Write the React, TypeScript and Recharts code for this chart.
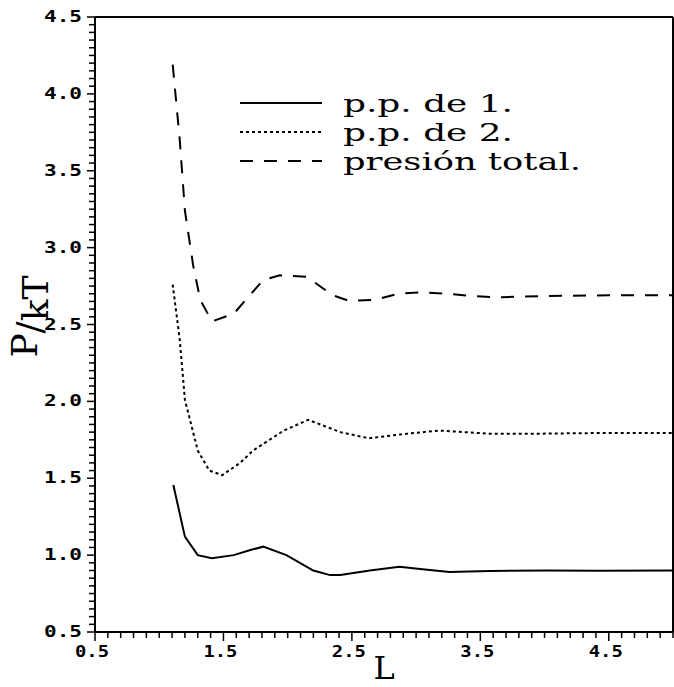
import React from 'react';
import { LineChart, Line, XAxis, YAxis, ReferenceLine, Legend } from 'recharts';

// p.p. de 1.
const L1 = [1.11, 1.2, 1.3, 1.41, 1.58, 1.71, 1.81, 1.99, 2.2, 2.33, 2.41, 2.64, 2.87, 3.05, 3.26, 3.57, 4.01, 4.43, 5.0];
const P1 = [1.456, 1.12, 1.0, 0.98, 1.0, 1.033, 1.055, 1.0, 0.9, 0.87, 0.87, 0.9, 0.925, 0.908, 0.89, 0.897, 0.9, 0.899, 0.9];

// p.p. de 2.
const L2 = [1.105, 1.16, 1.2, 1.3, 1.39, 1.49, 1.63, 1.73, 1.97, 2.16, 2.41, 2.63, 2.93, 3.18, 3.57, 3.96, 4.5, 5.0];
const P2 = [2.76, 2.4, 2.01, 1.68, 1.55, 1.52, 1.6, 1.68, 1.81, 1.88, 1.8, 1.76, 1.79, 1.81, 1.79, 1.79, 1.795, 1.795];

// presión total.
const L3 = [1.105, 1.16, 1.2, 1.265, 1.32, 1.41, 1.58, 1.81, 1.94, 2.15, 2.35, 2.48, 2.68, 2.86, 3.05, 3.24, 3.44, 3.64, 4.0, 4.5, 5.0];
const P3 = [4.19, 3.7, 3.24, 2.88, 2.66, 2.52, 2.57, 2.79, 2.82, 2.81, 2.69, 2.653, 2.66, 2.7, 2.71, 2.7, 2.685, 2.677, 2.685, 2.69, 2.69];

const X_LABELS = [0.5, 1.5, 2.5, 3.5, 4.5];
const Y_LABELS = [0.5, 1.0, 1.5, 2.0, 2.5, 3.0, 3.5, 4.0, 4.5];

const SERIES = [
  { name: 'p.p. de 1.', L: L1, P: P1, dash: undefined },
  { name: 'p.p. de 2.', L: L2, P: P2, dash: '3 3' },
  { name: 'presión total.', L: L3, P: P3, dash: '13 11' },
];

const toRows = (xs: number[], ys: number[]) => xs.map((L, i) => ({ L, P: ys[i] }));

// minor ticks: 0.1 on L, 0.05 on P
const xTicks: number[] = [];
for (let i = 5; i <= 50; i++) xTicks.push(i / 10);
const yTicks: number[] = [];
for (let i = 10; i <= 90; i++) yTicks.push(i / 20);

const isLabel = (v: number, labels: number[]) => labels.some((l) => Math.abs(l - v) < 1e-6);

const MONO = '"DejaVu Sans Mono", monospace';
const SERIF = '"DejaVu Serif", serif';

function XTick(props: any) {
  const { x, y, payload } = props;
  const major = isLabel(payload.value, X_LABELS);
  return (
    <g>
      <line x1={x} y1={y} x2={x} y2={y + (major ? 9 : 6)} stroke="#000" strokeWidth={1.5} />
      {major && (
        <text x={x - 3} y={y + 25} textAnchor="middle" fontFamily={MONO} fontSize={15} fontWeight="bold"
          textLength={34} lengthAdjust="spacingAndGlyphs" fill="#000">
          {payload.value.toFixed(1)}
        </text>
      )}
    </g>
  );
}

function YTick(props: any) {
  const { x, y, payload } = props;
  const major = isLabel(payload.value, Y_LABELS);
  return (
    <g>
      <line x1={x - (major ? 8 : 6)} y1={y} x2={x} y2={y} stroke="#000" strokeWidth={1.5} />
      {major && (
        <text x={x - 13} y={y + 5} textAnchor="end" fontFamily={MONO} fontSize={15} fontWeight="bold"
          textLength={38} lengthAdjust="spacingAndGlyphs" fill="#000">
          {payload.value.toFixed(1)}
        </text>
      )}
    </g>
  );
}

function LegendBox() {
  return (
    <svg width={360} height={100}>
      {SERIES.map((s, i) => (
        <g key={s.name}>
          <line x1={10} y1={18 + i * 29} x2={92} y2={18 + i * 29} stroke="#000" strokeWidth={2}
            strokeDasharray={s.dash} />
          <text x={113} y={27 + i * 29} fontFamily={SERIF} fontSize={25} fill="#000"
            textLength={s.name.length * 17} lengthAdjust="spacingAndGlyphs">{s.name}</text>
        </g>
      ))}
    </svg>
  );
}

export default function App() {
  return (
    <div style={{ position: 'absolute', left: 0, top: 0, background: '#fff' }}>
      <LineChart width={674} height={687} margin={{ top: 17, right: 1, bottom: 0, left: 0 }}>
        <XAxis
          type="number"
          dataKey="L"
          domain={[0.5, 5]}
          ticks={xTicks}
          interval={0}
          tickSize={0}
          tickMargin={0}
          tickLine={false}
          tick={<XTick />}
          height={55}
          axisLine={{ stroke: '#000', strokeWidth: 2 }}
          allowDataOverflow
          label={{
            content: ({ viewBox }: any) => (
              <text x={viewBox.x + viewBox.width / 2} y={viewBox.y + 47} textAnchor="middle"
                fontFamily={SERIF} fontSize={32} fill="#000">L</text>
            ),
          }}
        />
        <YAxis
          type="number"
          domain={[0.5, 4.5]}
          ticks={yTicks}
          interval={0}
          tickSize={0}
          tickMargin={0}
          tickLine={false}
          tick={<YTick />}
          width={95}
          axisLine={{ stroke: '#000', strokeWidth: 2 }}
          allowDataOverflow
          label={{
            content: ({ viewBox }: any) => {
              const cx = 37;
              const cy = viewBox.y + viewBox.height / 2 - 8;
              return (
                <text x={cx} y={cy} textAnchor="middle" transform={`rotate(-90, ${cx}, ${cy})`}
                  fontFamily={SERIF} fontSize={36} fill="#000">
                  <tspan>P</tspan>
                  <tspan dy={5}>/</tspan>
                  <tspan dy={6}>kT</tspan>
                </text>
              );
            },
          }}
        />
        <ReferenceLine y={4.5} stroke="#000" strokeWidth={2} />
        <ReferenceLine x={5} stroke="#000" strokeWidth={2} />
        {SERIES.map((s) => (
          <Line
            key={s.name}
            data={toRows(s.L, s.P)}
            dataKey="P"
            name={s.name}
            type="linear"
            stroke="#000"
            strokeWidth={2}
            strokeDasharray={s.dash}
            dot={false}
            activeDot={false}
            isAnimationActive={false}
          />
        ))}
        <Legend
          layout="vertical"
          align="center"
          verticalAlign="middle"
          content={() => <LegendBox />}
          wrapperStyle={{ left: 230, top: 85, width: 360, height: 100 }}
        />
      </LineChart>
    </div>
  );
}
